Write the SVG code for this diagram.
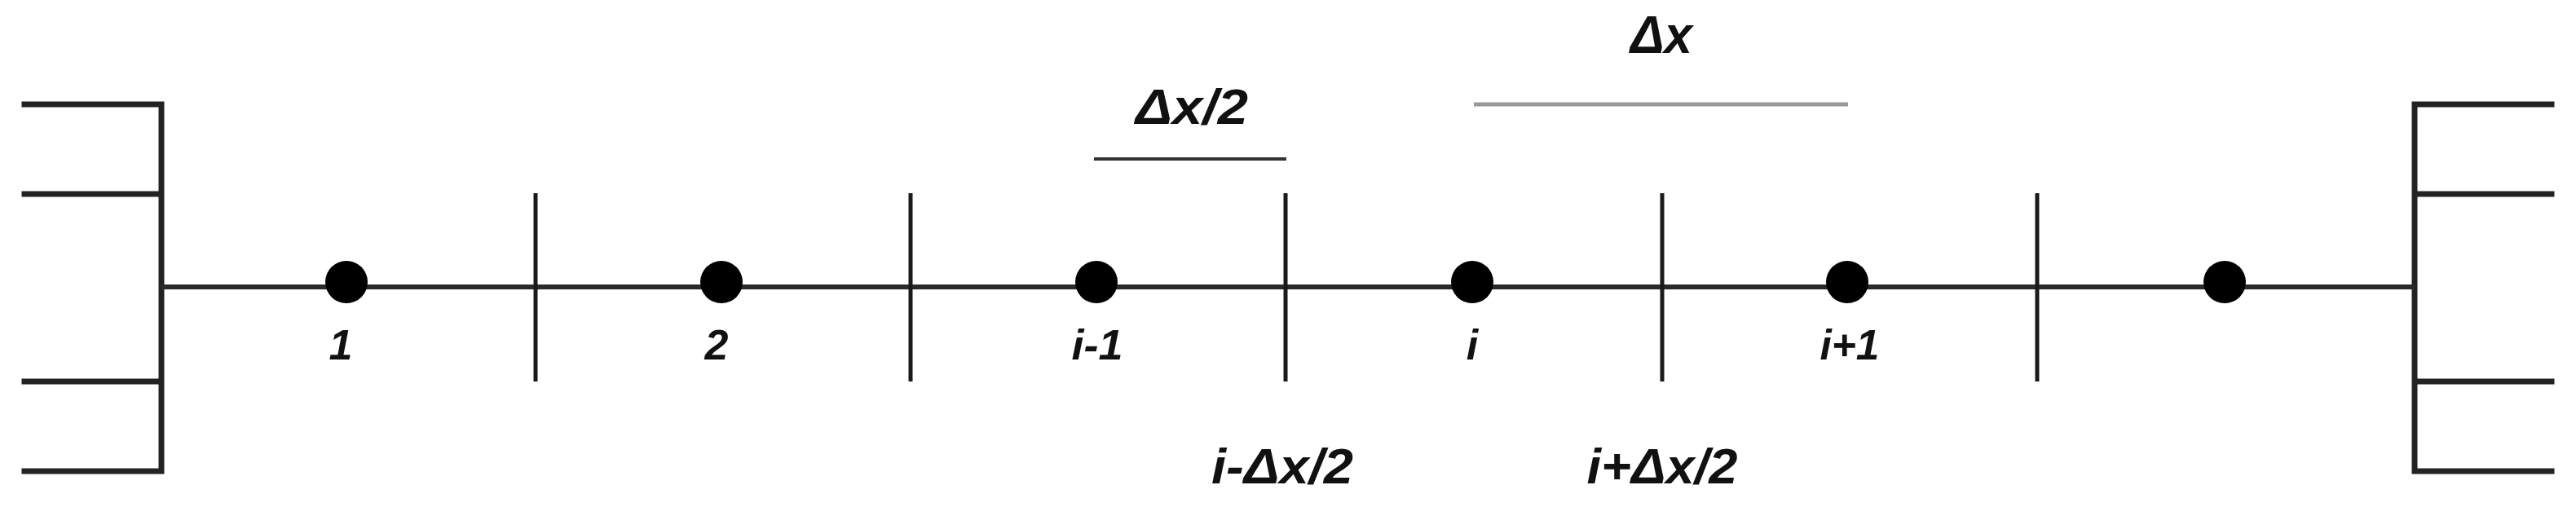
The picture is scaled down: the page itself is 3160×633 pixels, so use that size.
<svg xmlns="http://www.w3.org/2000/svg" width="3160" height="633" viewBox="0 0 3160 633">
<style>
.wall{stroke:#222;stroke-width:7;fill:none;stroke-linecap:square}
.axis{stroke:#2a2a2a;stroke-width:6}
.tick{stroke:#1a1a1a;stroke-width:5}
.dot{fill:#000}
.lbl{font-family:"Liberation Sans",Arial,sans-serif;font-weight:bold;font-style:italic;fill:#111;text-anchor:middle}
.node{font-size:52px}
.face{font-size:61px}
</style>
<rect width="3160" height="633" fill="#fff"/>
<g id="wall-left">
<path class="wall" d="M30 128H198V578H30M30 238H198M30 468H198"/>
</g>
<g id="wall-right">
<path class="wall" d="M3130 128H2962V578H3130M3130 238H2962M3130 468H2962"/>
</g>
<g id="connectors">
<line class="axis" x1="198" y1="352" x2="2962" y2="352"/>
<line class="tick" x1="657" y1="237" x2="657" y2="468"/>
<line class="tick" x1="1117" y1="237" x2="1117" y2="468"/>
<line class="tick" x1="1577" y1="237" x2="1577" y2="468"/>
<line class="tick" x1="2039" y1="237" x2="2039" y2="468"/>
<line class="tick" x1="2499" y1="237" x2="2499" y2="468"/>
<line x1="1342" y1="195" x2="1578" y2="195" stroke="#333" stroke-width="4"/>
<line x1="1808" y1="128" x2="2267" y2="128" stroke="#999" stroke-width="5"/>
</g>
<g id="node-1"><circle class="dot" cx="425" cy="346" r="26"/><text class="lbl node" x="418" y="441">1</text></g>
<g id="node-2"><circle class="dot" cx="885" cy="346" r="26"/><text class="lbl node" x="879" y="441">2</text></g>
<g id="node-im1"><circle class="dot" cx="1345" cy="346" r="26"/><text class="lbl node" x="1346" y="441" textLength="63" lengthAdjust="spacingAndGlyphs">i-1</text></g>
<g id="node-i"><circle class="dot" cx="1806" cy="346" r="26"/><text class="lbl node" x="1806" y="441">i</text></g>
<g id="node-ip1"><circle class="dot" cx="2266" cy="346" r="26"/><text class="lbl node" x="2269" y="441" textLength="73" lengthAdjust="spacingAndGlyphs">i+1</text></g>
<g id="node-last"><circle class="dot" cx="2729" cy="346" r="26"/></g>
<g id="label-half"><text class="lbl face" x="1462" y="152" textLength="138" lengthAdjust="spacingAndGlyphs">Δx/2</text></g>
<g id="label-dx"><text class="lbl" style="font-size:64px" x="2038" y="65" textLength="76" lengthAdjust="spacingAndGlyphs">Δx</text></g>
<g id="label-face-w"><text class="lbl face" x="1573" y="593" textLength="174" lengthAdjust="spacingAndGlyphs">i-Δx/2</text></g>
<g id="label-face-e"><text class="lbl face" x="2039" y="593" textLength="185" lengthAdjust="spacingAndGlyphs">i+Δx/2</text></g>
</svg>
